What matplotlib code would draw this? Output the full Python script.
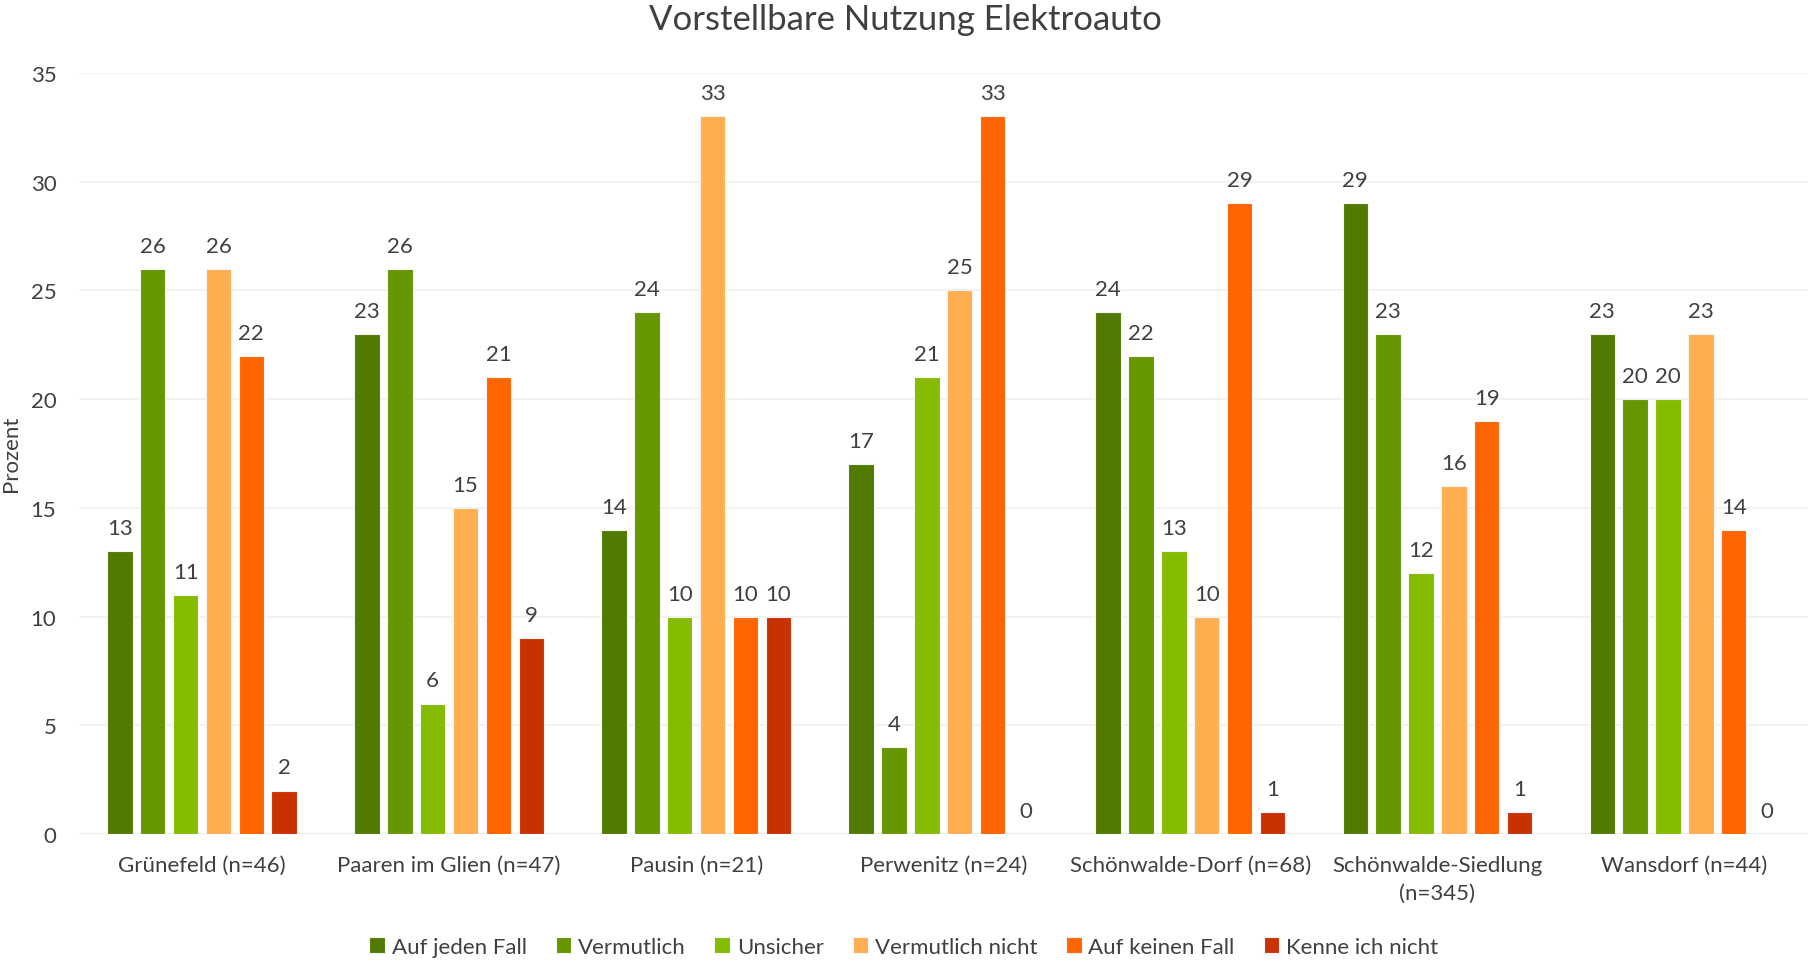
import numpy as np
import matplotlib.pyplot as plt

plt.rcParams['font.family'] = ['Lato', 'DejaVu Sans']

orte = ['Grünefeld (n=46)', 'Paaren im Glien (n=47)', 'Pausin (n=21)', 'Perwenitz (n=24)',
        'Schönwalde-Dorf (n=68)', 'Schönwalde-Siedlung\n(n=345)', 'Wansdorf (n=44)']
antworten = ['Auf jeden Fall', 'Vermutlich', 'Unsicher', 'Vermutlich nicht',
             'Auf keinen Fall', 'Kenne ich nicht']
farben = ['#527a00', '#669600', '#85bb00', '#ffae50', '#ff6600', '#c83200']

auf_jeden_fall = [13, 23, 14, 17, 24, 29, 23]
vermutlich = [26, 26, 24, 4, 22, 23, 20]
unsicher = [11, 6, 10, 21, 13, 12, 20]
vermutlich_nicht = [26, 15, 33, 25, 10, 16, 23]
auf_keinen_fall = [22, 21, 10, 33, 29, 19, 14]
kenne_ich_nicht = [2, 9, 10, 0, 1, 1, 0]
werte = [auf_jeden_fall, vermutlich, unsicher, vermutlich_nicht, auf_keinen_fall, kenne_ich_nicht]

textfarbe = '#404040'
fs = 16
fig = plt.figure(figsize=(18.11, 9.62), dpi=100)
ax = fig.add_axes([78.5 / 1811, 1 - 835 / 962, (1808 - 78.5) / 1811, (835 - 74) / 962])

x = np.arange(len(orte))
schritt = 0.133
breite = 0.103
for i, (name, vals) in enumerate(zip(antworten, werte)):
    pos = x + (i - 2.5) * schritt
    ax.bar(pos, vals, breite, color=farben[i], label=name,
           edgecolor='#f4f4f4', linewidth=0.8, zorder=3)
    for p, v in zip(pos, vals):
        ax.text(p, v + 0.6, str(v), ha='center', va='bottom', fontsize=fs, color=textfarbe)

ax.set_xlim(-0.5, 6.5)
ax.set_ylim(0, 35)
ax.set_yticks(range(0, 36, 5))
ax.grid(axis='y', color='#f0f0f0', linewidth=1.2, zorder=0)
for s in ax.spines.values():
    s.set_visible(False)
ax.axhline(0, color='#ededed', linewidth=1.5, zorder=2)
ax.tick_params(length=0, labelsize=fs, colors=textfarbe)
ax.tick_params(axis='x', pad=15)
ax.tick_params(axis='y', pad=16)
ax.set_xticks(x)
ax.set_xticklabels(orte, linespacing=1.5)

fig.text(11 / 1811, 1 - 454 / 962, 'Prozent', rotation=90, ha='center', va='center',
         fontsize=fs, color=textfarbe)
fig.text(0.5, 1 - 20 / 962, 'Vorstellbare Nutzung Elektroauto', ha='center', va='center',
         fontsize=25, color=textfarbe)
fig.legend(loc='center', bbox_to_anchor=(0.499, 1 - 948 / 962), ncol=6, frameon=False,
           fontsize=fs, handlelength=0.7, handleheight=0.7, handletextpad=0.3,
           columnspacing=1.3, labelcolor=textfarbe)

plt.savefig('out.png', dpi=100)
